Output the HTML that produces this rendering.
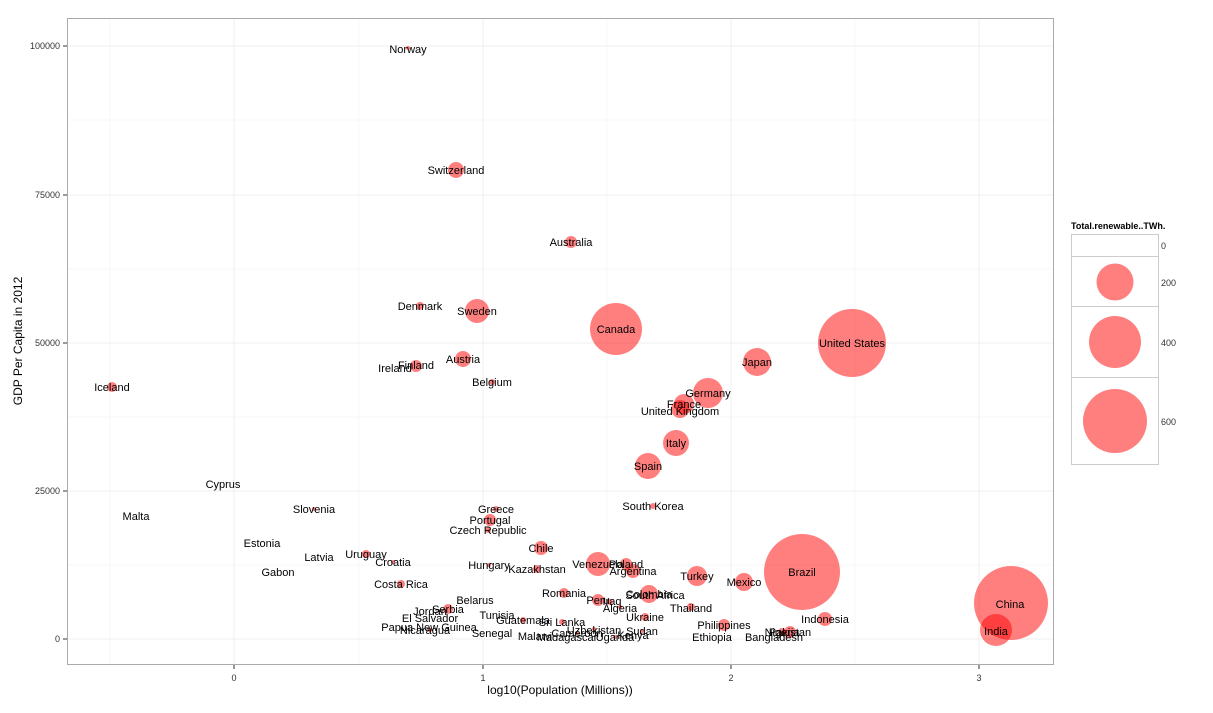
<!DOCTYPE html>
<html><head><meta charset="utf-8"><style>
body{margin:0;background:#fff}
svg text{font-family:"Liberation Sans",Arial,sans-serif}
.l{font-size:11px;fill:#000;text-anchor:middle;dominant-baseline:central}
.t{font-size:9px;fill:#333}
</style></head><body>
<svg width="1213" height="708" xmlns="http://www.w3.org/2000/svg">
<rect width="1213" height="708" fill="#fff"/>
<g stroke="#f7f7f7" stroke-width="1">
<line x1="110" y1="18" x2="110" y2="665"/><line x1="359" y1="18" x2="359" y2="665"/><line x1="607" y1="18" x2="607" y2="665"/><line x1="855" y1="18" x2="855" y2="665"/>
<line x1="67" y1="565" x2="1054" y2="565"/><line x1="67" y1="417" x2="1054" y2="417"/><line x1="67" y1="269" x2="1054" y2="269"/><line x1="67" y1="120" x2="1054" y2="120"/>
</g>
<g stroke="#efefef" stroke-width="1">
<line x1="234" y1="18" x2="234" y2="665"/><line x1="483" y1="18" x2="483" y2="665"/><line x1="731" y1="18" x2="731" y2="665"/><line x1="979" y1="18" x2="979" y2="665"/>
<line x1="67" y1="639" x2="1054" y2="639"/><line x1="67" y1="491" x2="1054" y2="491"/><line x1="67" y1="343" x2="1054" y2="343"/><line x1="67" y1="195" x2="1054" y2="195"/><line x1="67" y1="46" x2="1054" y2="46"/>
</g>
<rect x="67.5" y="18.5" width="986" height="646" fill="none" stroke="#aaa"/>
<g stroke="#333"><line x1="63" y1="639" x2="67" y2="639"/><line x1="63" y1="491" x2="67" y2="491"/><line x1="63" y1="343" x2="67" y2="343"/><line x1="63" y1="195" x2="67" y2="195"/><line x1="63" y1="46" x2="67" y2="46"/>
<line x1="234" y1="665" x2="234" y2="669"/><line x1="483" y1="665" x2="483" y2="669"/><line x1="731" y1="665" x2="731" y2="669"/><line x1="979" y1="665" x2="979" y2="669"/></g>
<g class="t" text-anchor="end"><text x="60" y="642">0</text><text x="60" y="494">25000</text><text x="60" y="346">50000</text><text x="60" y="198">75000</text><text x="60" y="49">100000</text></g>
<g class="t" text-anchor="middle"><text x="234" y="681">0</text><text x="483" y="681">1</text><text x="731" y="681">2</text><text x="979" y="681">3</text></g>
<text x="560" y="694" font-size="12" text-anchor="middle">log10(Population (Millions))</text>
<text transform="translate(22,341) rotate(-90)" font-size="12" text-anchor="middle">GDP Per Capita in 2012</text>
<g fill="red" fill-opacity="0.5">
<circle cx="408" cy="48" r="2"/><circle cx="456" cy="170" r="8"/><circle cx="571" cy="242" r="6"/><circle cx="420" cy="306" r="4"/>
<circle cx="477" cy="311" r="12"/><circle cx="616" cy="329" r="26"/><circle cx="852" cy="343" r="34"/><circle cx="757" cy="362" r="14"/>
<circle cx="463" cy="359" r="8"/><circle cx="416" cy="366" r="6"/><circle cx="112" cy="387" r="5"/><circle cx="492" cy="382" r="3"/>
<circle cx="708" cy="393" r="15"/><circle cx="684" cy="404" r="10"/><circle cx="680" cy="409" r="9"/><circle cx="676" cy="443" r="13"/>
<circle cx="648" cy="466" r="13"/><circle cx="653" cy="506" r="3"/><circle cx="314" cy="509" r="2"/><circle cx="496" cy="509" r="3"/>
<circle cx="490" cy="520" r="6"/><circle cx="488" cy="530" r="3"/><circle cx="541" cy="548" r="7"/><circle cx="366" cy="554" r="4"/>
<circle cx="393" cy="562" r="2"/><circle cx="598" cy="564" r="12"/><circle cx="626" cy="564" r="6"/><circle cx="489" cy="565" r="2"/>
<circle cx="537" cy="569" r="4"/><circle cx="633" cy="571" r="7"/><circle cx="697" cy="576" r="10"/><circle cx="744" cy="582" r="9"/>
<circle cx="802" cy="572" r="38"/><circle cx="401" cy="584" r="4"/><circle cx="564" cy="593" r="5"/><circle cx="649" cy="594" r="9"/>
<circle cx="598" cy="600" r="6"/><circle cx="610" cy="602" r="3"/><circle cx="620" cy="607" r="2"/><circle cx="691" cy="607" r="4"/>
<circle cx="448" cy="609" r="5"/><circle cx="825" cy="619" r="7"/><circle cx="645" cy="617" r="4"/><circle cx="523" cy="620" r="3"/>
<circle cx="562" cy="622" r="3"/><circle cx="724" cy="625" r="6"/><circle cx="594" cy="629" r="2"/><circle cx="642" cy="631" r="2"/>
<circle cx="790" cy="632" r="6"/><circle cx="782" cy="632" r="4"/><circle cx="1011" cy="603" r="37"/><circle cx="996" cy="630" r="16"/>
<circle cx="577" cy="633" r="2"/><circle cx="615" cy="637" r="2"/><circle cx="430" cy="630" r="2"/>
</g>
<g class="l">
<text x="408" y="50">Norway</text><text x="456" y="171">Switzerland</text><text x="571" y="243">Australia</text><text x="420" y="307">Denmark</text>
<text x="477" y="312">Sweden</text><text x="616" y="330">Canada</text><text x="852" y="344">United States</text><text x="757" y="363">Japan</text>
<text x="463" y="360">Austria</text><text x="416" y="366">Finland</text><text x="395" y="369">Ireland</text><text x="112" y="388">Iceland</text>
<text x="492" y="383">Belgium</text><text x="708" y="394">Germany</text><text x="684" y="405">France</text><text x="680" y="412">United Kingdom</text>
<text x="676" y="444">Italy</text><text x="648" y="467">Spain</text><text x="223" y="485">Cyprus</text><text x="653" y="507">South Korea</text>
<text x="314" y="510">Slovenia</text><text x="496" y="510">Greece</text><text x="136" y="517">Malta</text><text x="490" y="521">Portugal</text>
<text x="488" y="531">Czech Republic</text><text x="262" y="544">Estonia</text><text x="541" y="549">Chile</text><text x="319" y="558">Latvia</text>
<text x="366" y="555">Uruguay</text><text x="393" y="563">Croatia</text><text x="598" y="565">Venezuela</text><text x="626" y="565">Poland</text>
<text x="489" y="566">Hungary</text><text x="537" y="570">Kazakhstan</text><text x="633" y="572">Argentina</text><text x="278" y="573">Gabon</text>
<text x="697" y="577">Turkey</text><text x="744" y="583">Mexico</text><text x="802" y="573">Brazil</text><text x="401" y="585">Costa Rica</text>
<text x="564" y="594">Romania</text><text x="649" y="595">Colombia</text><text x="655" y="596">South Africa</text><text x="598" y="601">Peru</text>
<text x="612" y="602">Iraq</text><text x="475" y="601">Belarus</text><text x="620" y="609">Algeria</text><text x="691" y="609">Thailand</text>
<text x="448" y="610">Serbia</text><text x="430" y="612">Jordan</text><text x="497" y="616">Tunisia</text><text x="825" y="620">Indonesia</text>
<text x="645" y="618">Ukraine</text><text x="430" y="619">El Salvador</text><text x="523" y="621">Guatemala</text><text x="562" y="623">Sri Lanka</text>
<text x="724" y="626">Philippines</text><text x="429" y="628">Papua New Guinea</text><text x="425" y="631">Nicaragua</text><text x="594" y="631">Uzbekistan</text>
<text x="642" y="632">Sudan</text><text x="790" y="633">Pakistan</text><text x="782" y="633">Nigeria</text><text x="1010" y="605">China</text>
<text x="996" y="632">India</text><text x="492" y="634">Senegal</text><text x="577" y="634">Cameroon</text><text x="535" y="637">Malawi</text>
<text x="567" y="638">Madagascar</text><text x="615" y="638">Uganda</text><text x="633" y="636">Kenya</text><text x="712" y="638">Ethiopia</text>
<text x="774" y="638">Bangladesh</text>
</g>
<text x="1071" y="229" font-size="9" font-weight="bold">Total.renewable..TWh.</text>
<g fill="#fff" stroke="#ccc"><rect x="1071.5" y="234.5" width="87" height="22"/><rect x="1071.5" y="256.5" width="87" height="50"/><rect x="1071.5" y="306.5" width="87" height="71"/><rect x="1071.5" y="377.5" width="87" height="87"/></g>
<g fill="red" fill-opacity="0.5"><circle cx="1115" cy="282" r="18.5"/><circle cx="1115" cy="342" r="26"/><circle cx="1115" cy="421" r="32"/></g>
<g class="t"><text x="1161" y="249">0</text><text x="1161" y="286">200</text><text x="1161" y="346">400</text><text x="1161" y="425">600</text></g>
</svg>
</body></html>
